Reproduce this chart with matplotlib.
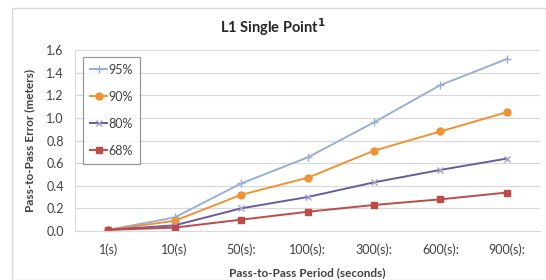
import matplotlib
matplotlib.use("Agg")
import matplotlib.pyplot as plt
from matplotlib.patches import Rectangle

categories = ["1(s)", "10(s)", "50(s):", "100(s):", "300(s):", "600(s):", "900(s):"]
p95 = [0.01, 0.12, 0.42, 0.65, 0.96, 1.29, 1.52]
p90 = [0.01, 0.09, 0.32, 0.47, 0.71, 0.88, 1.05]
p80 = [0.01, 0.05, 0.20, 0.30, 0.43, 0.54, 0.64]
p68 = [0.01, 0.03, 0.10, 0.17, 0.23, 0.28, 0.34]
yticks = [0.0, 0.2, 0.4, 0.6, 0.8, 1.0, 1.2, 1.4, 1.6]

plt.rcParams['font.family'] = ['Lato', 'DejaVu Sans']

W, H = 546, 280
fig = plt.figure(figsize=(W/100, H/100), dpi=100)
fig.patch.set_facecolor('white')
# outer chart border
fig.patches.append(Rectangle((12/W, 0), (W-12)/W + 0.01, (H-8)/H, transform=fig.transFigure,
                             fill=False, edgecolor='#d9d9d9', linewidth=1.0))

ax = fig.add_axes([75/W, 1-231/H, (540-75)/W, (231-50)/H])
x = list(range(len(categories)))
ax.plot(x, p95, color='#98B0D4', marker='+', markersize=6, linewidth=1.4, label='95%')
ax.plot(x, p90, color='#F09234', marker='o', markersize=5, linewidth=1.4, label='90%')
ax.plot(x, p80, color='#6A5C9B', marker='x', markersize=5, linewidth=1.4, markeredgecolor='#A9A0C8', label='80%')
ax.plot(x, p68, color='#BE4B48', marker='s', markersize=5, linewidth=1.4, label='68%')

ax.set_xlim(-0.5, len(categories)-0.5)
ax.set_ylim(0, 1.6)
ax.set_yticks(yticks)
ax.set_yticklabels([f"{v:.1f}" for v in yticks], fontsize=9, color='#404040')
ax.set_xticks(x)
ax.set_xticklabels(categories, fontsize=9, color='#404040')
ax.tick_params(axis='both', length=0)
ax.tick_params(axis='x', pad=9)
ax.tick_params(axis='y', pad=8)
ax.grid(axis='y', color='#d9d9d9', linewidth=0.9)
ax.set_axisbelow(True)
for s in ['top', 'right']:
    ax.spines[s].set_visible(False)
ax.spines['left'].set_color('#d9d9d9')
ax.spines['bottom'].set_color('#d9d9d9')

ax.set_xlabel("Pass-to-Pass Period (seconds)", fontsize=8.5, fontweight='bold', color='#404040', labelpad=8)
ax.set_ylabel("Pass-to-Pass Error (meters)", fontsize=8.5, fontweight='bold', color='#404040', labelpad=8)
fig.text(0.5, 1-27/H, "L1 Single Point$^{\\mathbf{1}}$", ha='center', va='center', fontsize=10.5,
         fontweight='bold', color='#262626')

leg = ax.legend(loc='upper left', bbox_to_anchor=(83/W, 1-57/H), bbox_transform=fig.transFigure,
                borderaxespad=0, fontsize=9, frameon=True,
                fancybox=False, edgecolor='#808080', handlelength=1.4, handletextpad=0.1,
                labelspacing=1.2, borderpad=0.55, labelcolor='#404040')
leg.get_frame().set_linewidth(0.9)

fig.savefig("out.png", dpi=100, facecolor='white')
